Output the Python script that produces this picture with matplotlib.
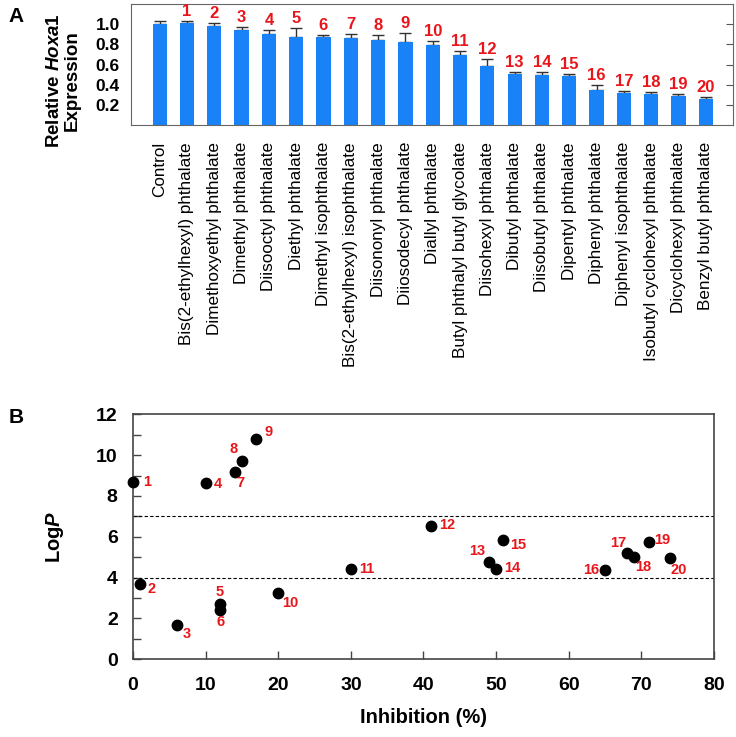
import numpy as np
import matplotlib.pyplot as plt

plt.rcParams['font.family'] = ['Liberation Sans', 'DejaVu Sans']
plt.rcParams['mathtext.fontset'] = 'custom'
plt.rcParams['mathtext.it'] = 'Liberation Sans:italic:bold'
plt.rcParams['mathtext.rm'] = 'Liberation Sans:bold'

# panel A data
compuestos = ["Control", "Bis(2-ethylhexyl) phthalate", "Dimethoxyethyl phthalate",
              "Dimethyl phthalate", "Diisooctyl phthalate", "Diethyl phthalate",
              "Dimethyl isophthalate", "Bis(2-ethylhexyl) isophthalate", "Diisononyl phthalate",
              "Diiosodecyl phthalate", "Diallyl phthalate", "Butyl phthalyl butyl glycolate",
              "Diisohexyl phthalate", "Dibutyl phthalate", "Diisobutyl phthalate",
              "Dipentyl phthalate", "Diphenyl phthalate", "Diphenyl isophthalate",
              "Isobutyl cyclohexyl phthalate", "Dicyclohexyl phthalate", "Benzyl butyl phthalate"]
expresion = [1.00, 1.01, 0.985, 0.94, 0.90, 0.876, 0.876, 0.86, 0.847, 0.82, 0.797,
             0.695, 0.586, 0.51, 0.50, 0.487, 0.349, 0.322, 0.312, 0.292, 0.262]
error = [0.03, 0.02, 0.03, 0.035, 0.045, 0.09, 0.02, 0.04, 0.043, 0.09, 0.04,
         0.04, 0.07, 0.02, 0.027, 0.02, 0.05, 0.02, 0.013, 0.017, 0.013]
numeros = [""] + [str(i) for i in range(1, 21)]

# panel B data
inhibicion = [0, 1, 6, 10, 12, 12, 14, 15, 17, 20, 30, 41, 49, 50, 51, 65, 68, 69, 71, 74]
logp = [8.7, 3.7, 1.7, 8.65, 2.72, 2.4, 9.17, 9.72, 10.78, 3.27, 4.43, 6.55, 4.78, 4.43,
        5.85, 4.38, 5.2, 5.0, 5.75, 4.97]
etiquetas = [str(i) for i in range(1, 21)]

# posicion de las etiquetas: desplazamiento en pixeles (dx, dy hacia abajo) y alineacion
offs = [(10, 0, 'left'), (7, 5, 'left'), (6, 9, 'left'), (8, 1, 'left'),
        (0, -12, 'center'), (0, 12, 'center'), (6, 11, 'center'), (-8, -12, 'center'),
        (8, -7, 'left'), (4, 10, 'left'), (8, 0, 'left'), (8, -1, 'left'),
        (-4, -11, 'right'), (8, -1, 'left'), (7, 5, 'left'), (-6, 0, 'right'),
        (-1, -10, 'right'), (1, 10, 'left'), (6, -2, 'left'), (0, 12, 'left')]

fig = plt.figure(figsize=(7.36, 7.37), dpi=100)
px = 72.0 / 100  # pixeles a puntos

#PANEL A
axA = fig.add_axes([0.178, 0.830, 0.818, 0.1646])
x = np.arange(len(compuestos))
axA.bar(x, expresion, width=0.52, color='#1a82f7', zorder=2)
axA.errorbar(x, expresion, yerr=[np.zeros(len(error)), error], fmt='none',
             ecolor='#333333', elinewidth=1, capsize=4, capthick=1, zorder=1)
for i in range(len(x)):
    axA.annotate(numeros[i], (x[i], expresion[i] + error[i]), xytext=(0, 1.5),
                 textcoords='offset points', ha='center', va='bottom',
                 color='#e8161b', fontsize=12, fontweight='bold')
axA.set_xlim(-1.05, 21)
axA.set_ylim(0, 1.2)
axA.set_yticks([0.2, 0.4, 0.6, 0.8, 1.0])
axA.set_yticklabels(["0.2", "0.4", "0.6", "0.8", "1.0"], fontweight='bold', fontsize=12.5)
axA.tick_params(axis='y', left=False, right=True, labelleft=True, direction='in',
                length=5, color='#555555', pad=8)
axA.set_xticks(x)
axA.set_xticklabels(compuestos, rotation=90, fontsize=12.3)
axA.tick_params(axis='x', length=0, pad=12)
for s in axA.spines.values():
    s.set_color('#666666')
axA.set_ylabel(r"Relative $\it{Hoxa1}$" + "\nExpression", fontweight='bold',
               fontsize=13.5, linespacing=1.05)
axA.yaxis.set_label_coords(-0.083, 0.37)
fig.text(0.012, 0.99, "A", fontsize=15, fontweight='bold', va='top')

#PANEL B
axB = fig.add_axes([0.1807, 0.1054, 0.7893, 0.3325])
axB.plot(inhibicion, logp, 'o', color='black', markersize=7.5, zorder=3, clip_on=False)
for i in range(len(inhibicion)):
    dx, dy, al = offs[i]
    axB.annotate(etiquetas[i], (inhibicion[i], logp[i]), xytext=(dx * px, -dy * px),
                 textcoords='offset points', color='#e8161b', fontsize=10.5,
                 fontweight='bold', va='center', ha=al)
axB.axhline(7, color='black', linestyle='--', linewidth=0.8, dashes=(3, 2))
axB.axhline(4, color='black', linestyle='--', linewidth=0.8, dashes=(3, 2))
axB.set_xlim(0, 80)
axB.set_ylim(0, 12)
axB.set_xticks(range(0, 81, 10))
axB.set_yticks(range(0, 13, 2))
axB.set_yticks(range(1, 12, 2), minor=True)
axB.tick_params(axis='both', which='both', direction='in', length=6, width=1,
                color='#444444', labelsize=14)
axB.tick_params(axis='y', pad=11)
axB.tick_params(axis='x', pad=13)
for lab in axB.get_xticklabels() + axB.get_yticklabels():
    lab.set_fontweight('bold')
for s in axB.spines.values():
    s.set_color('#444444')
    s.set_linewidth(1.2)
axB.set_xlabel("Inhibition (%)", fontsize=14.5, fontweight='bold', labelpad=10)
axB.set_ylabel(r"Log$\it{P}$", fontsize=14.5, fontweight='bold', labelpad=22)
fig.text(0.012, 0.446, "B", fontsize=15, fontweight='bold', va='top')

plt.savefig("out.png", dpi=100)
